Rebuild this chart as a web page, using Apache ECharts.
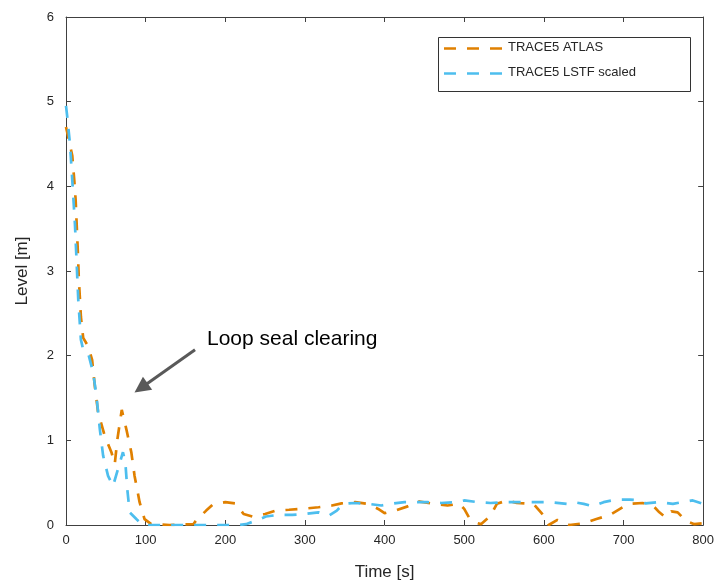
<!DOCTYPE html>
<html>
<head>
<meta charset="utf-8">
<script src="https://cdn.jsdelivr.net/npm/echarts@6/dist/echarts.min.js"></script>
<style>
html,body{margin:0;padding:0;background:#fff;}
#chart{width:717px;height:586px;}
</style>
</head>
<body>
<div id="chart"></div>
<script>
// ---- data ----
const seriesNames = ['TRACE5 ATLAS', 'TRACE5 LSTF scaled'];
const xTicks = [0, 100, 200, 300, 400, 500, 600, 700, 800];
const yTicks = [0, 1, 2, 3, 4, 5, 6];

const atlasTime = [0, 2.9, 7.9, 10.4, 12.1, 14.6, 16.2, 18.7, 21.6, 27.8, 32.8, 36.2, 40.3, 48.7, 57, 61.2, 64.5, 70, 75.8, 82, 86.1, 92.4, 98.6, 107, 130, 160, 163, 176, 184, 200, 213, 223, 234, 250, 263, 280, 296, 317, 334, 346, 363, 379, 392, 400, 413, 429, 442, 458, 479, 494, 500, 506, 514, 521, 533, 541, 554, 566, 587, 600, 606, 617, 632, 650, 666, 683, 699, 708, 724, 737, 745, 753, 760, 768, 778, 789, 800];
const atlasLevel = [4.70, 4.58, 4.36, 4.07, 3.84, 3.29, 2.89, 2.46, 2.21, 2.11, 1.95, 1.64, 1.33, 1.05, 0.86, 0.72, 1.01, 1.36, 1.13, 0.86, 0.58, 0.27, 0.07, 0.01, 0.0, 0.01, 0.05, 0.17, 0.24, 0.27, 0.255, 0.13, 0.10, 0.13, 0.17, 0.18, 0.19, 0.21, 0.23, 0.255, 0.27, 0.25, 0.19, 0.14, 0.17, 0.22, 0.28, 0.255, 0.23, 0.25, 0.19, 0.09, 0.03, 0.01, 0.11, 0.25, 0.29, 0.26, 0.25, 0.11, 0.0, 0.06, 0.0, 0.02, 0.07, 0.12, 0.21, 0.25, 0.26, 0.23, 0.15, 0.09, 0.16, 0.15, 0.05, 0.01, 0.02];

const lstfTime = [0, 1.6, 5, 7.9, 11.2, 13.4, 15.4, 18.7, 21.6, 27.8, 34.1, 38.3, 42.5, 46.6, 52.8, 59, 65.3, 71.5, 74.5, 77, 79.9, 88.3, 96.5, 150, 217, 226, 238, 251, 267, 284, 300, 317, 330, 340, 348, 363, 379, 396, 408, 425, 438, 454, 471, 490, 500, 517, 533, 550, 567, 583, 608, 629, 637, 650, 662, 675, 691, 708, 720, 728, 745, 762, 774, 787, 800];
const lstfLevel = [4.95, 4.82, 4.50, 4.07, 3.56, 3.09, 2.66, 2.19, 2.07, 2.03, 1.80, 1.52, 1.13, 0.82, 0.58, 0.46, 0.66, 0.86, 0.74, 0.42, 0.15, 0.07, 0.0, 0.0, 0.0, 0.01, 0.05, 0.10, 0.12, 0.12, 0.13, 0.15, 0.11, 0.17, 0.25, 0.26, 0.25, 0.23, 0.25, 0.27, 0.27, 0.27, 0.26, 0.27, 0.29, 0.27, 0.26, 0.27, 0.27, 0.27, 0.27, 0.25, 0.27, 0.25, 0.22, 0.27, 0.30, 0.30, 0.29, 0.255, 0.27, 0.25, 0.27, 0.29, 0.25];

const annotationText = 'Loop seal clearing';
const arrowTail = [162, 2.07];
const arrowTip = [86, 1.565];
const textAnchor = [177, 2.19];

// ---- chart ----
const zip = (a, b) => a.map((v, i) => [v, b[i]]);
const FONT = '"Liberation Sans", Arial, sans-serif';
const TXT = '#262626';
const AX = '#404040';
const colors = ['#E08000', '#4DBEEE'];
const DASH = [12, 11];
const LW = 2.7;

const chart = echarts.init(document.getElementById('chart'), null, {renderer: 'canvas'});

function axisCommon() {
  return {
    min: 0,
    axisLine: {show: true, onZero: false, lineStyle: {color: AX, width: 1}},
    axisTick: {show: true, inside: true, length: 5, lineStyle: {color: AX, width: 1}},
    splitLine: {show: false},
  };
}

chart.setOption({
  animation: false,
  backgroundColor: '#fff',
  textStyle: {fontFamily: FONT},
  grid: {left: 66, right: 10, top: 17, bottom: 60, containLabel: false},
  xAxis: [
    Object.assign(axisCommon(), {
      type: 'value', position: 'bottom', max: 800, interval: 100,
      name: 'Time [s]', nameLocation: 'middle', nameGap: 39,
      nameTextStyle: {color: TXT, fontSize: 17, fontFamily: FONT},
      axisLabel: {color: TXT, fontSize: 13, margin: 9, fontFamily: FONT},
    }),
    Object.assign(axisCommon(), {
      type: 'value', position: 'top', max: 800, interval: 100,
      axisLabel: {show: false},
    }),
  ],
  yAxis: [
    Object.assign(axisCommon(), {
      type: 'value', position: 'left', max: 6, interval: 1,
      name: 'Level [m]', nameLocation: 'middle', nameGap: 35, nameRotate: 90,
      nameTextStyle: {color: TXT, fontSize: 17, fontFamily: FONT},
      axisLabel: {color: TXT, fontSize: 13, margin: 12, fontFamily: FONT},
    }),
    Object.assign(axisCommon(), {
      type: 'value', position: 'right', max: 6, interval: 1,
      axisLabel: {show: false},
    }),
  ],
  series: [
    {
      name: seriesNames[0], type: 'line', data: zip(atlasTime, atlasLevel),
      showSymbol: false, symbol: 'none', smooth: false,
      lineStyle: {color: colors[0], width: LW, type: DASH},
      itemStyle: {color: colors[0]},
    },
    {
      name: seriesNames[1], type: 'line', data: zip(lstfTime, lstfLevel),
      showSymbol: false, symbol: 'none', smooth: false,
      lineStyle: {color: colors[1], width: LW, type: DASH},
      itemStyle: {color: colors[1]},
    },
  ],
});

// annotation (arrow + text) placed via data coordinates
const tail = chart.convertToPixel({xAxisIndex: 0, yAxisIndex: 0}, arrowTail);
const tip = chart.convertToPixel({xAxisIndex: 0, yAxisIndex: 0}, arrowTip);
const tpos = chart.convertToPixel({xAxisIndex: 0, yAxisIndex: 0}, textAnchor);
const dx = tip[0] - tail[0], dy = tip[1] - tail[1];
const len = Math.sqrt(dx * dx + dy * dy);
const ux = dx / len, uy = dy / len;
const headLen = 16, headW = 8;
const base = [tip[0] - ux * headLen, tip[1] - uy * headLen];
const px = -uy, py = ux;

// legend box (MATLAB-style)
const legend = {x: 438, y: 37, w: 252, h: 54, lineX1: 444, lineX2: 502, textX: 508, rowY: [48.5, 73.5], textDy: -1};
const legendGraphics = [{
  type: 'rect', z: 110,
  shape: {x: legend.x + 0.5, y: legend.y + 0.5, width: legend.w, height: legend.h},
  style: {fill: '#fff', stroke: '#333', lineWidth: 1},
}];
seriesNames.forEach((nm, i) => {
  legendGraphics.push({
    type: 'line', z: 111,
    shape: {x1: legend.lineX1, y1: legend.rowY[i], x2: legend.lineX2, y2: legend.rowY[i]},
    style: {stroke: colors[i], lineWidth: LW, lineDash: DASH},
  });
  legendGraphics.push({
    type: 'text', z: 111, x: legend.textX, y: legend.rowY[i] + legend.textDy,
    style: {text: nm, fill: TXT, font: '13px ' + FONT, verticalAlign: 'middle'},
  });
});

chart.setOption({
  graphic: [
    {
      type: 'line', z: 100,
      shape: {x1: tail[0], y1: tail[1], x2: base[0] + ux * 2, y2: base[1] + uy * 2},
      style: {stroke: '#595959', lineWidth: 3},
    },
    {
      type: 'polygon', z: 100,
      shape: {points: [tip, [base[0] + px * headW, base[1] + py * headW], [base[0] - px * headW, base[1] - py * headW]]},
      style: {fill: '#595959'},
    },
    {
      type: 'text', z: 100,
      x: tpos[0], y: tpos[1],
      style: {text: annotationText, fill: '#000', font: '21px ' + FONT, verticalAlign: 'middle'},
    },
  ].concat(legendGraphics),
});
</script>
</body>
</html>
